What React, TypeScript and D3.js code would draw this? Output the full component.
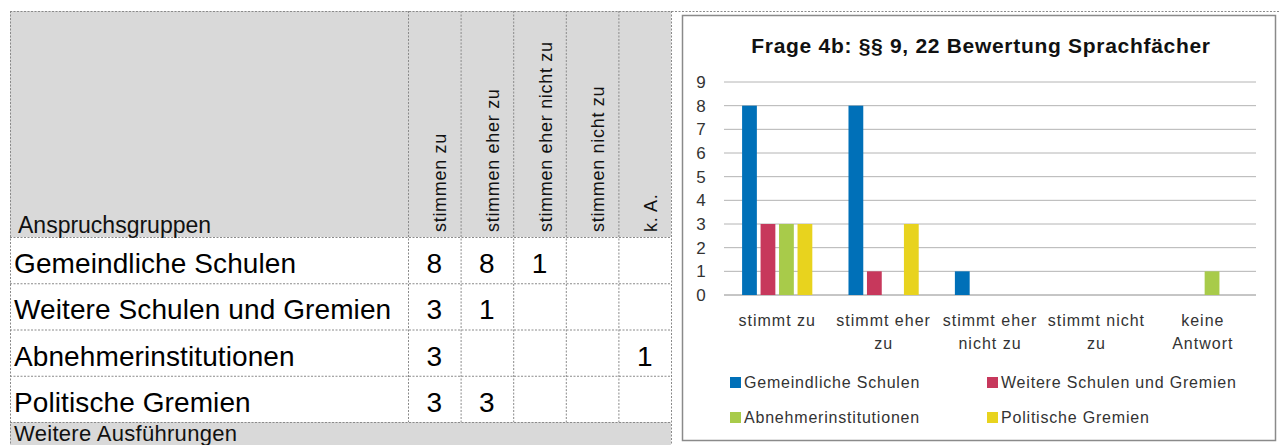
import React from 'react';
import * as d3 from 'd3';

// table / chart data
const groups = [
  'Gemeindliche Schulen',
  'Weitere Schulen und Gremien',
  'Abnehmerinstitutionen',
  'Politische Gremien',
];
const answerCols = ['stimmen zu', 'stimmen eher zu', 'stimmen eher nicht zu', 'stimmen nicht zu', 'k. A.'];
const chartCategories = ['stimmt zu', 'stimmt eher zu', 'stimmt eher nicht zu', 'stimmt nicht zu', 'keine Antwort'];
const categoryLines = [['stimmt zu'], ['stimmt eher', 'zu'], ['stimmt eher', 'nicht zu'], ['stimmt nicht', 'zu'], ['keine', 'Antwort']];

const gemeindliche = [8, 8, 1, null, null];
const weitere = [3, 1, null, null, null];
const abnehmer = [3, null, null, null, 1];
const politische = [3, 3, null, null, null];
const seriesValues = [gemeindliche, weitere, abnehmer, politische];

const seriesColors = ['#0070B8', '#C7385C', '#A8CB4A', '#E8D31E'];
const yTicks = [0, 1, 2, 3, 4, 5, 6, 7, 8, 9];

const title = 'Frage 4b: §§ 9, 22 Bewertung Sprachfächer';
const tableFont = "'Liberation Sans', Arial, sans-serif";
const chartFont = "'Liberation Sans', Arial, sans-serif";

export default function App() {
  // table geometry
  const tLeft = 10;
  const tTop = 11;
  const headBottom = 237;
  const tBottom = 422;
  const tRight = 671;
  const colScale = d3.scaleBand<string>().domain(answerCols).range([408, tRight]);
  const rowScale = d3.scaleBand<string>().domain(groups).range([headBottom, tBottom]);

  // chart geometry
  const x0 = d3.scaleBand<string>().domain(chartCategories).range([724, 1256]);
  const groupW = x0.bandwidth() * 0.66;
  const x1 = d3.scaleBand<string>().domain(groups).range([0, groupW]).paddingInner(0.2);
  const y = d3.scaleLinear().domain([0, 9]).range([295, 82]);

  const dash = '2,1.5';
  const lineCol = '#8a8a8a';

  return (
    <svg width={1280} height={445} style={{ position: 'absolute', left: 0, top: 0, background: '#fff' }}>
      {/* header background */}
      <rect x={tLeft} y={tTop} width={tRight - tLeft} height={headBottom - tTop} fill="#D9D9D9" />
      <rect x={tLeft} y={tBottom} width={tRight - tLeft} height={445 - tBottom} fill="#D9D9D9" />

      {/* grid lines of table */}
      <g stroke={lineCol} strokeWidth={1} strokeDasharray={dash} fill="none">
        <line x1={tLeft} x2={1280} y1={tTop + 0.5} y2={tTop + 0.5} />
        <line x1={tLeft + 0.5} x2={tLeft + 0.5} y1={tTop} y2={445} />
        {answerCols.map((c) => (
          <line key={c} x1={colScale(c)! + 0.5} x2={colScale(c)! + 0.5} y1={tTop} y2={tBottom} />
        ))}
        <line x1={tRight + 0.5} x2={tRight + 0.5} y1={tTop} y2={445} />
        {groups.map((g) => (
          <line key={g} x1={tLeft} x2={tRight} y1={rowScale(g)! + 0.5} y2={rowScale(g)! + 0.5} />
        ))}
        <line x1={tLeft} x2={tRight} y1={tBottom + 0.5} y2={tBottom + 0.5} />
      </g>

      {/* header text */}
      <text x={18} y={233} fontFamily={tableFont} fontSize={23} fill="#111">
        Anspruchsgruppen
      </text>
      {answerCols.map((c) => {
        const cx = colScale(c)! + colScale.bandwidth() / 2 + 12;
        return (
          <text
            key={c}
            transform={`translate(${cx},232) rotate(-90)`}
            fontFamily={tableFont}
            fontSize={18}
            letterSpacing={0.7}
            fill="#111"
          >
            {c}
          </text>
        );
      })}

      {/* body rows */}
      {groups.map((g, gi) => (
        <g key={g}>
          <text x={14} y={rowScale(g)! + 36} fontFamily={tableFont} fontSize={28} letterSpacing={0.1} fill="#000">
            {g}
          </text>
          {seriesValues[gi].map((v, ci) =>
            v == null ? null : (
              <text
                key={ci}
                x={colScale(answerCols[ci])! + colScale.bandwidth() / 2}
                y={rowScale(g)! + 36}
                textAnchor="middle"
                fontFamily={tableFont}
                fontSize={28}
                fill="#000"
              >
                {v}
              </text>
            )
          )}
        </g>
      ))}
      <text x={14} y={441} fontFamily={tableFont} fontSize={22} letterSpacing={0.3} fill="#111">
        Weitere Ausführungen
      </text>

      {/* chart frame */}
      <rect x={682.5} y={15.5} width={593} height={425} fill="#fff" stroke="#8a8a8a" strokeWidth={1.5} />
      <text
        x={981}
        y={53}
        textAnchor="middle"
        fontFamily={chartFont}
        fontWeight="bold"
        fontSize={21}
        letterSpacing={0.7}
        fill="#111"
      >
        {title}
      </text>

      {/* gridlines + y labels */}
      {yTicks.map((t) => (
        <g key={t}>
          <line x1={724} x2={1256} y1={y(t)} y2={y(t)} stroke={t === 0 ? '#8c8c8c' : '#b4b4b4'} strokeWidth={1} />
          <text x={701} y={y(t) + 6} textAnchor="middle" fontFamily={chartFont} fontSize={17} fill="#333">
            {t}
          </text>
        </g>
      ))}

      {/* bars */}
      {chartCategories.map((cat, ci) => {
        const gx = x0(cat)! + (x0.bandwidth() - groupW) / 2;
        return (
          <g key={cat} transform={`translate(${gx},0)`}>
            {groups.map((g, gi) => {
              const v = seriesValues[gi][ci] ?? 0;
              if (!v) return null;
              return (
                <rect
                  key={g}
                  x={x1(g)!}
                  y={y(v)}
                  width={x1.bandwidth()}
                  height={y(0) - y(v)}
                  fill={seriesColors[gi]}
                />
              );
            })}
          </g>
        );
      })}

      {/* category labels */}
      {chartCategories.map((cat, ci) => (
        <text
          key={cat}
          textAnchor="middle"
          fontFamily={chartFont}
          fontSize={16}
          letterSpacing={1}
          fill="#333"
        >
          {categoryLines[ci].map((ln, li) => (
            <tspan key={li} x={x0(cat)! + x0.bandwidth() / 2} y={326 + li * 23}>
              {ln}
            </tspan>
          ))}
        </text>
      ))}

      {/* legend */}
      {groups.map((g, gi) => {
        const lx = gi % 2 === 0 ? 730 : 987;
        const ly = gi < 2 ? 388 : 423;
        return (
          <g key={g}>
            <rect x={lx} y={ly - 11} width={11} height={11} fill={seriesColors[gi]} />
            <text x={lx + 14} y={ly} fontFamily={chartFont} fontSize={16} letterSpacing={0.8} fill="#333">
              {g}
            </text>
          </g>
        );
      })}
    </svg>
  );
}
